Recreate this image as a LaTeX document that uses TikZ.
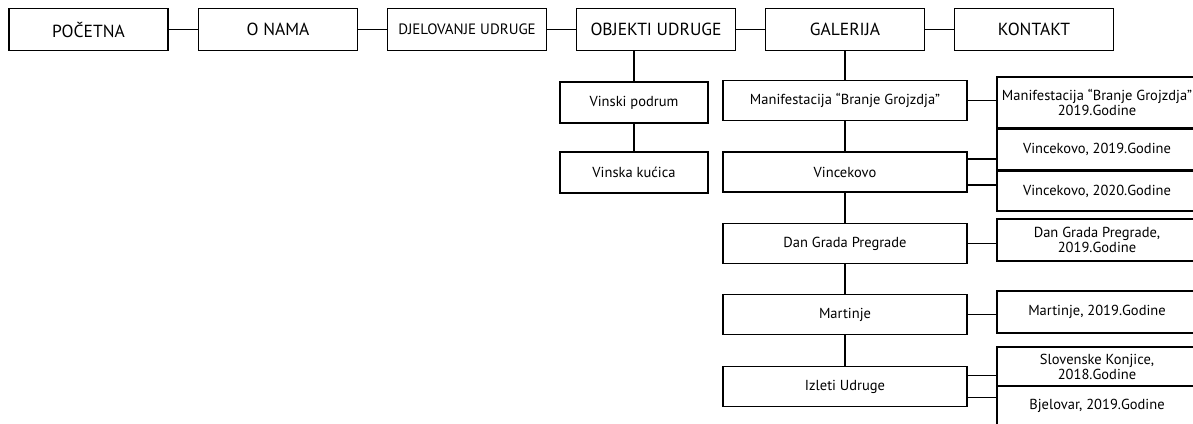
\documentclass[tikz,border=0pt]{standalone}
\usepackage{fontspec}
\setmainfont{PT Sans}
\usetikzlibrary{calc}
\tikzset{
  box/.style={draw, rectangle, line width=1.1pt, inner sep=1pt, align=center},
  topbox/.style={box, minimum width=159pt, minimum height=42pt, font=\fontsize{17.5}{19}\selectfont},
  objbox/.style={box, minimum width=148pt, minimum height=41pt, font=\fontsize{14.5}{15}\selectfont},
  galbox/.style={box, minimum width=244pt, minimum height=40pt, font=\fontsize{14.5}{15}\selectfont},
  yearbox/.style={box, minimum width=200pt, font=\fontsize{14.5}{15}\selectfont},
  link/.style={line width=1.1pt}
}
\newcommand{\sitenode}[4] {\node at (#1) (#2) [#3] {#4};}
\newcommand{\sitelink}[2] {\draw [link] (#1) -- (#2);}
\newcommand{\sidelink}[3] {\draw [link] ([yshift=#3]#1.east) -- ([yshift=#3]#1.east -| #2.west);}

\begin{document}
\begin{tikzpicture}
\useasboundingbox (0,0) rectangle (1193pt,-423pt);

% glavni izbornik
\sitenode {88.5pt,-29.5pt} {pocetna} {topbox} {POČETNA};
\sitenode {278pt,-29.5pt} {onama} {topbox} {O NAMA};
\sitenode {467pt,-29.5pt} {djelovanje} {topbox, font=\fontsize{15}{17}\selectfont} {DJELOVANJE UDRUGE};
\sitenode {656pt,-29.5pt} {objekti} {topbox} {OBJEKTI UDRUGE};
\sitenode {845pt,-29.5pt} {galerija} {topbox} {GALERIJA};
\sitenode {1034pt,-29.5pt} {kontakt} {topbox} {KONTAKT};

\sitelink{pocetna}{onama};
\sitelink{onama}{djelovanje};
\sitelink{djelovanje}{objekti};
\sitelink{objekti}{galerija};
\sitelink{galerija}{kontakt};

% objekti udruge
\sitenode {634pt,-102.5pt} {podrum} {objbox} {Vinski podrum};
\sitenode {634pt,-172.5pt} {kucica} {objbox} {Vinska kućica};
\sitelink{objekti.south -| podrum.north}{podrum};
\sitelink{podrum}{kucica};

% galerija
\sitenode {845pt,-100.5pt} {branje} {galbox} {Manifestacija “Branje Grojzdja”};
\sitenode {845pt,-172pt} {vincekovo} {galbox} {Vincekovo};
\sitenode {845pt,-243.5pt} {dangrada} {galbox} {Dan Grada Pregrade};
\sitenode {845pt,-314.5pt} {martinje} {galbox} {Martinje};
\sitenode {845pt,-386.5pt} {izleti} {galbox} {Izleti Udruge};

\sitelink{galerija}{branje};
\sitelink{branje}{vincekovo};
\sitelink{vincekovo}{dangrada};
\sitelink{dangrada}{martinje};
\sitelink{martinje}{izleti};

% godine
\sitenode {1097pt,-102.5pt} {branje19} {yearbox, minimum height=51pt} {Manifestacija “Branje Grojzdja”\\2019.Godine};
\sitenode {1097pt,-149.5pt} {vinc19} {yearbox, minimum height=41pt} {Vincekovo, 2019.Godine};
\sitenode {1097pt,-191pt} {vinc20} {yearbox, minimum height=40pt} {Vincekovo, 2020.Godine};
\sitenode {1097pt,-240pt} {dan19} {yearbox, minimum height=42pt} {Dan Grada Pregrade,\\2019.Godine};
\sitenode {1097pt,-312pt} {mart19} {yearbox, minimum height=42pt} {Martinje, 2019.Godine};
\sitenode {1097pt,-366.5pt} {slov18} {yearbox, minimum height=39pt} {Slovenske Konjice,\\2018.Godine};
\sitenode {1097pt,-406pt} {bjel19} {yearbox, minimum height=40pt} {Bjelovar, 2019.Godine};

\sidelink{branje}{branje19}{0pt};
\sidelink{vincekovo}{vinc19}{13pt};
\sidelink{vincekovo}{vinc20}{-13pt};
\sidelink{dangrada}{dan19}{0pt};
\sidelink{martinje}{mart19}{0pt};
\sidelink{izleti}{slov18}{11pt};
\sidelink{izleti}{bjel19}{-11pt};

\end{tikzpicture}
\end{document}
